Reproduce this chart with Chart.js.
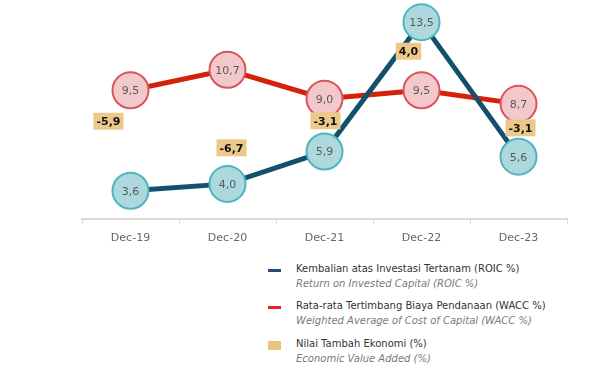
<!DOCTYPE html>
<html>
<head>
<meta charset="utf-8">
<script src="https://cdn.jsdelivr.net/npm/chart.js@4"></script>
<style>
    body { margin: 0; background: #fff; font-family: "DejaVu Sans", sans-serif; }
    #wrap { position: relative; width: 595px; height: 365px; }
    #chartBox { position: absolute; left: 0; top: 0; width: 595px; height: 253px; }
    .legend { position: absolute; left: 268px; }
    .legend .item { position: absolute; left: 0; white-space: nowrap; }
    .legend .mark { position: absolute; left: 0; width: 13px; }
    .legend .t1 { position: absolute; left: 28px; top: -7px; font-size: 10px; color: #333; }
    .legend .t2 { position: absolute; left: 28px; top: 8px; font-size: 10px; color: #7a7a7a; font-style: italic; }
</style>
</head>
<body>
<div id="wrap">
    <div id="chartBox"><canvas id="valueChart"></canvas></div>
    <div class="legend">
        <div class="item" style="top:270px">
            <div class="mark" style="top:-1px;height:3px;background:#2b4a6e"></div>
            <div class="t1">Kembalian atas Investasi Tertanam (ROIC %)</div>
            <div class="t2">Return on Invested Capital (ROIC %)</div>
        </div>
        <div class="item" style="top:307px">
            <div class="mark" style="top:-1px;height:3px;background:#e3222c"></div>
            <div class="t1">Rata-rata Tertimbang Biaya Pendanaan (WACC %)</div>
            <div class="t2">Weighted Average of Cost of Capital (WACC %)</div>
        </div>
        <div class="item" style="top:345px">
            <div class="mark" style="top:-4px;height:9px;background:#e9c47e"></div>
            <div class="t1">Nilai Tambah Ekonomi (%)</div>
            <div class="t2">Economic Value Added (%)</div>
        </div>
    </div>
</div>
<script>
    var years = ["Dec-19", "Dec-20", "Dec-21", "Dec-22", "Dec-23"];
    var roic = [3.6, 4.0, 5.9, 13.5, 5.6];
    var wacc = [9.5, 10.7, 9.0, 9.5, 8.7];
    var eva = [-5.9, -6.7, -3.1, 4.0, -3.1];

    // where each EVA tag sits, measured from the WACC point of that year
    var evaOffset = [[-22, 31], [4, 78], [1, 22], [-13, -39], [2, 24]];

    function fmt(v) {
        return v.toFixed(1).replace(".", ",");
    }

    // values inside the circles + the EVA tags
    var labelPlugin = {
        id: "valueLabels",
        afterDatasetsDraw: function (chart) {
            var ctx = chart.ctx;
            ctx.save();
            ctx.textAlign = "center";
            ctx.textBaseline = "middle";
            ctx.font = "11px 'DejaVu Sans', sans-serif";
            ctx.fillStyle = "#5a5a5a";
            chart.data.datasets.forEach(function (ds, di) {
                chart.getDatasetMeta(di).data.forEach(function (pt, i) {
                    ctx.fillText(fmt(ds.data[i]), pt.x, pt.y + 1);
                });
            });

            var waccMeta = chart.getDatasetMeta(1).data;
            ctx.font = "bold 11px 'DejaVu Sans', sans-serif";
            eva.forEach(function (v, i) {
                var txt = fmt(v);
                var w = ctx.measureText(txt).width + 6;
                var h = 17;
                var cx = waccMeta[i].x + evaOffset[i][0];
                var cy = waccMeta[i].y + evaOffset[i][1];
                ctx.fillStyle = "#ecc98a";
                ctx.fillRect(cx - w / 2, cy - h / 2, w, h);
                ctx.fillStyle = "#111";
                ctx.fillText(txt, cx, cy + 1);
            });
            ctx.restore();
        }
    };

    var ctx1 = document.getElementById("valueChart").getContext("2d");
    var myChart = new Chart(ctx1, {
        type: "line",
        data: {
            labels: years,
            datasets: [{
                    label: "ROIC",
                    data: roic,
                    borderColor: "#12506e",
                    borderWidth: 5,
                    pointRadius: 18,
                    pointHoverRadius: 18,
                    pointBackgroundColor: "#acd8de",
                    pointBorderColor: "#4fb3c0",
                    pointBorderWidth: 2,
                    tension: 0
                },
                {
                    label: "WACC",
                    data: wacc,
                    borderColor: "#d42108",
                    borderWidth: 5,
                    pointRadius: 18,
                    pointHoverRadius: 18,
                    pointBackgroundColor: "#f3c8ca",
                    pointBorderColor: "#d9545b",
                    pointBorderWidth: 2,
                    tension: 0
                }
            ]
        },
        options: {
            responsive: true,
            maintainAspectRatio: false,
            animation: false,
            layout: { autoPadding: false, padding: { left: 82, right: 28, top: 0, bottom: 0 } },
            plugins: {
                legend: { display: false },
                tooltip: { enabled: false }
            },
            scales: {
                x: {
                    offset: true,
                    grid: {
                        offset: true,
                        drawOnChartArea: false,
                        color: "#d9d9d9",
                        tickLength: 5,
                        lineWidth: 1
                    },
                    border: { color: "#d9d9d9", width: 2 },
                    ticks: {
                        color: "#666",
                        font: { family: "DejaVu Sans", size: 11 },
                        padding: 8
                    }
                },
                y: {
                    display: false,
                    min: 1.95,
                    max: 14.8
                }
            }
        },
        plugins: [labelPlugin]
    });
</script>
</body>
</html>
